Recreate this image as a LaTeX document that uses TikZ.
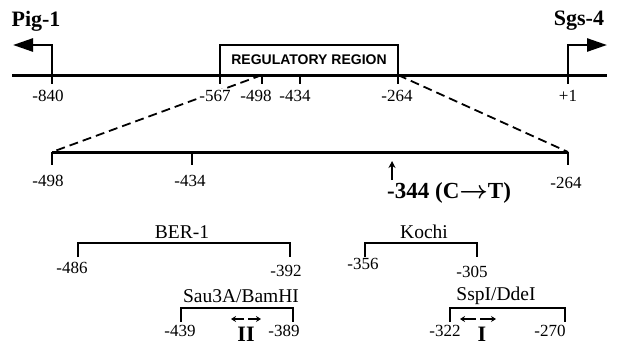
\documentclass[tikz,border=0pt]{standalone}
\usepackage{amsmath}
\usepackage{fontspec}
\setmainfont{Liberation Serif}
\newfontfamily\regfont{Liberation Sans}
\usetikzlibrary{arrows.meta}
\begin{document}
\begin{tikzpicture}[x=1pt,y=-1pt,
  dna/.style={line width=3pt},
  tickmark/.style={line width=2.6pt},
  bracket/.style={line width=2.8pt},
  dashline/.style={line width=1.8pt, dash pattern=on 9pt off 5pt},
  promoter/.style={line width=2.6pt, -{Triangle[length=20pt,width=13pt]}},
  regbox/.style={draw, line width=1.6pt, minimum width=178pt, minimum height=30pt, inner sep=0pt,
    font=\fontsize{14}{14}\selectfont\regfont\bfseries},
  num/.style={inner sep=0pt, font=\fontsize{17}{17}\selectfont},
  lbl/.style={inner sep=0pt, font=\fontsize{19.5}{19.5}\selectfont},
  bigb/.style={inner sep=0pt, font=\fontsize{22}{22}\selectfont\bfseries},
  smallarr/.style={line width=1.2pt, -{Stealth[length=5pt,width=6pt]}},
  mutarr/.style={line width=1.6pt, -{Stealth[length=7pt,width=7pt]}}
]
\useasboundingbox (0,0) rectangle (617,346);

% ---- top map ----
\coordinate (L) at (12,75);
\coordinate (R) at (607,75);
\draw[dna] (L) -- (R);

\node[regbox] (reg) at (309,60) {REGULATORY REGION};

% ticks
\coordinate (t840) at (52,75);
\coordinate (t567) at (220,75);
\coordinate (t498) at (262,75);
\coordinate (t434) at (300,75);
\coordinate (t264) at (398,75);
\coordinate (t1) at (568,75);
\foreach \t in {t840,t567,t498,t434,t264,t1}
  \draw[tickmark] (\t) -- ++(0,9);

% promoters
\coordinate (pigtop) at (52,45);
\coordinate (pigtip) at (13,45);
\draw[promoter] (t840) -- (pigtop) -- (pigtip);
\coordinate (sgstop) at (568,45);
\coordinate (sgstip) at (607,45);
\draw[promoter] (t1) -- (sgstop) -- (sgstip);

\node[bigb] (pig) at (36,21) {Pig-1};
\node[bigb] (sgs) at (579,21) {Sgs-4};

% ---- expanded map ----
\coordinate (b498) at (52,152);
\coordinate (b434) at (192,152);
\coordinate (b264) at (568,152);
\draw[dashline] (t498) -- (b498);
\draw[dashline] (t264) -- (b264);
\draw[dna] (b498) -- (b264);
\foreach \t in {b498,b434,b264}
  \draw[tickmark] (\t) -- ++(0,13);

% labels of top map (drawn over the dashed line)
\node[num] (n840) at (48,96) {-840};
\node[num, fill=white, inner sep=1.5pt] (n567) at (215,96) {-567};
\node[num] (n498) at (256,96) {-498};
\node[num] (n434) at (295,96) {-434};
\node[num] (n264) at (397,96) {-264};
\node[num] (n1) at (568,96) {+1};

\node[num] (m498) at (48,181) {-498};
\node[num] (m434) at (190,181) {-434};
\node[num] (m264) at (566,183) {-264};

\coordinate (mutbot) at (392,180);
\coordinate (muttop) at (392,161);
\draw[mutarr] (mutbot) -- (muttop);
\node[bigb, anchor=west, font=\fontsize{23}{23}\selectfont\bfseries] (mut) at (387,193) {-344 (C$\boldsymbol{\rightarrow}$T)};

% ---- BER-1 ----
\coordinate (ber1) at (78,257);
\coordinate (ber2) at (290,257);
\draw[bracket] (ber1) |- (184,243) -| (ber2);
\node[lbl] (berl) at (182,232) {BER-1};
\node[num] (n486) at (72,268) {-486};
\node[num] (n392) at (286,271) {-392};

% ---- Kochi ----
\coordinate (ko1) at (365,257);
\coordinate (ko2) at (477,257);
\draw[bracket] (ko1) |- (421,243) -| (ko2);
\node[lbl] (kol) at (424,232) {Kochi};
\node[num] (n356) at (363,264) {-356};
\node[num] (n305) at (472,272) {-305};

% ---- Sau3A/BamHI ----
\coordinate (sa1) at (181,322);
\coordinate (sa2) at (293,322);
\draw[bracket] (sa1) |- (237,308) -| (sa2);
\node[lbl] (sal) at (241,296) {Sau3A/BamHI};
\node[num] (n439) at (180,331) {-439};
\node[num] (n389) at (284,331) {-389};
\coordinate (sac) at (246,319);
\draw[smallarr] ([xshift=-2pt]sac) -- ++(-13,0);
\draw[smallarr] ([xshift=2pt]sac) -- ++(13,0);
\node[bigb, anchor=base] (two) at (246,341) {II};

% ---- SspI/DdeI ----
\coordinate (ss1) at (450,322);
\coordinate (ss2) at (565,322);
\draw[bracket] (ss1) |- (507,308) -| (ss2);
\node[lbl] (ssl) at (496,296) {SspI/DdeI};
\node[num] (n322) at (445,331) {-322};
\node[num] (n270) at (550,331) {-270};
\coordinate (ssc) at (478,319);
\draw[smallarr] ([xshift=-2pt]ssc) -- ++(-16,0);
\draw[smallarr] ([xshift=2pt]ssc) -- ++(16,0);
\node[bigb, anchor=base] (one) at (482,341) {I};
\end{tikzpicture}
\end{document}
